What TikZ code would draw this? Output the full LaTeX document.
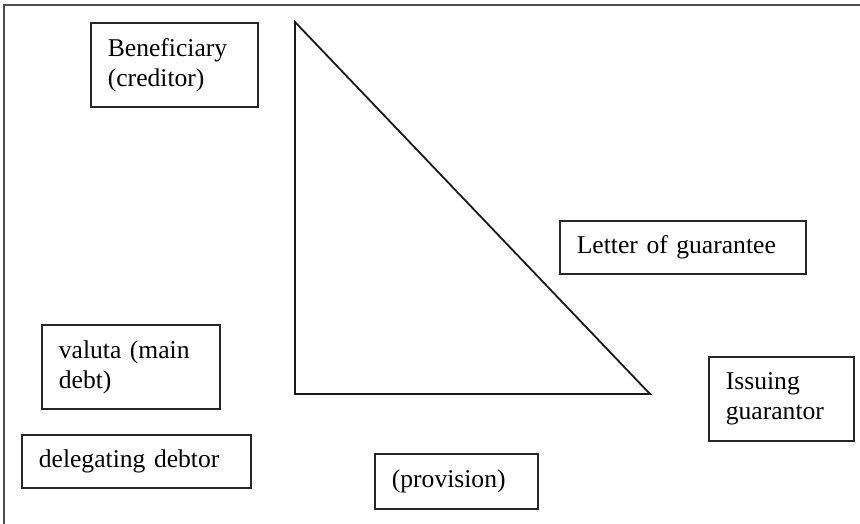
\documentclass[tikz,border=0pt]{standalone}
\usepackage{fontspec}
\setmainfont{Liberation Serif}
\begin{document}
\begin{tikzpicture}[x=1pt,y=-1pt,
  party/.style={draw=black!85,line width=1.7pt,anchor=north west,align=left,
    inner xsep=17pt,inner ysep=0pt,font=\fontsize{25.6}{30}\selectfont},
  frame/.style={draw=black!70,line width=1.4pt},
  edge/.style={draw=black!90,line width=1.8pt,line join=miter}]
  \useasboundingbox (0,0) rectangle (860,524);
  % cropped outer frame: only the top and left edges show
  \draw[frame] (4,524) -- (4,5) -- (860,5);

  % boxes: top-left corner, width, height
  \node[party,text width=133pt,minimum height=84pt] (benef) at (90,22) {Beneficiary\\(creditor)};
  \node[party,text width=212pt,minimum height=53pt] (letter) at (559,220) {Letter of guarantee};
  \node[party,text width=144pt,minimum height=84pt] (valuta) at (41,324) {valuta (main\\debt)};
  \node[party,text width=195pt,minimum height=53pt] (deleg) at (21,434) {delegating debtor};
  \node[party,text width=129pt,minimum height=55pt] (prov) at (374,453) {(provision)};
  \node[party,text width=111pt,minimum height=84pt] (issuer) at (708,356) {Issuing\\guarantor};

  % right triangle
  \coordinate (apex) at (295,22);
  \coordinate (corner) at (295,394);
  \coordinate (tip) at (650,394);
  \draw[edge] (apex) -- (corner) -- (tip) -- cycle;
\end{tikzpicture}
\end{document}
